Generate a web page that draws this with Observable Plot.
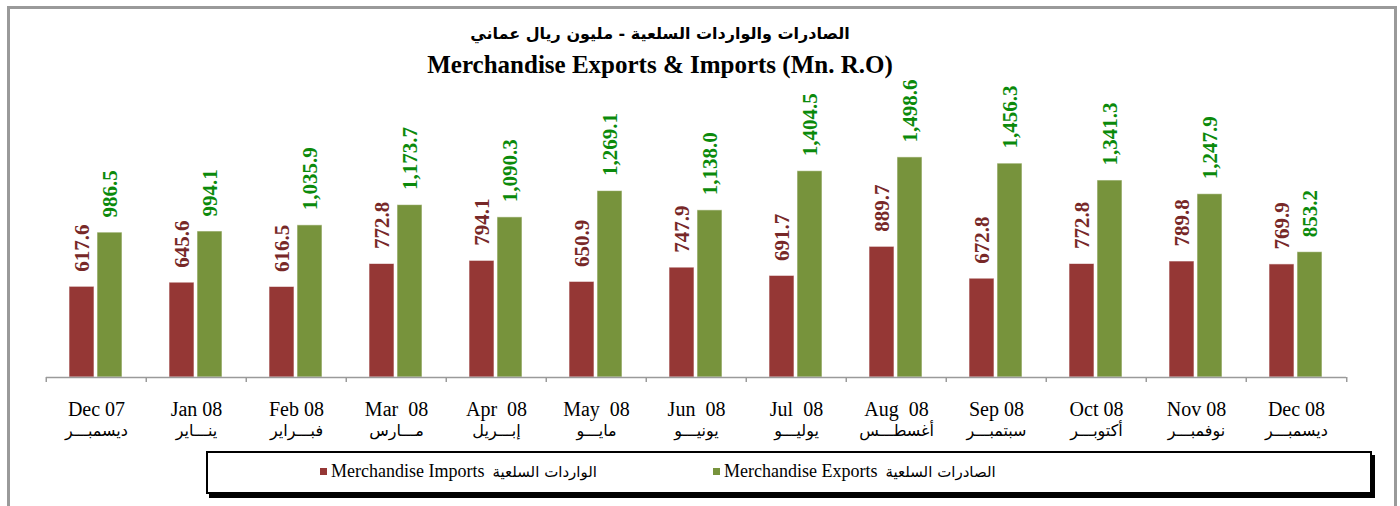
<!DOCTYPE html>
<html><head><meta charset="utf-8">
<script src="https://cdn.jsdelivr.net/npm/d3@7"></script>
<script src="https://cdn.jsdelivr.net/npm/@observablehq/plot@0.6"></script>
<style>
body{margin:0;background:#fff;}
#wrap{position:relative;width:1400px;height:506px;overflow:hidden;font-family:"Liberation Serif","DejaVu Sans",serif;}
#frame{position:absolute;left:7px;top:6px;width:1384px;height:560px;border:3px solid #9a9a9a;}
#chart{position:absolute;left:0;top:0;}
#title{position:absolute;left:0;top:20px;width:1320px;text-align:center;color:#000;}
#t1{font-family:"DejaVu Sans",sans-serif;font-weight:bold;font-size:16px;line-height:28px;}
#t2{font-family:"Liberation Serif",serif;font-weight:bold;font-size:25px;line-height:34px;}
#legend{position:absolute;left:206px;top:451px;width:1162px;height:39px;border:2px solid #000;box-shadow:3px 4px 0 #000;background:#fff;font-size:18px;}
.item{position:absolute;top:8px;white-space:nowrap;display:flex;align-items:center;}
.sw{display:inline-block;width:7px;height:7px;margin-right:4px;}
.ar{font-family:"DejaVu Sans",sans-serif;font-size:15px;margin-left:8px;}
</style></head>
<body><div id="wrap">
<div id="frame"></div>
<div id="chart"></div>
<div id="title"><div id="t1" dir="rtl">الصادرات والواردات السلعية - مليون ريال عماني</div><div id="t2">Merchandise Exports &amp; Imports (Mn. R.O)</div></div>
<div id="legend"></div>
</div>
<script>
const months = ["Dec 07","Jan 08","Feb 08","Mar  08","Apr  08","May  08","Jun  08","Jul  08","Aug  08","Sep 08","Oct 08","Nov 08","Dec 08"];
const monthsAr = ["ديسمبـــر","ينـــاير","فبـــراير","مـــارس","إبـــريل","مايـــو","يونيـــو","يوليـــو","أغسطـــس","سبتمبـــر","أكتوبـــر","نوفمبـــر","ديسمبـــر"];
const imports = [617.6,645.6,616.5,772.8,794.1,650.9,747.9,691.7,889.7,672.8,772.8,789.8,769.9];
const exportsV = [986.5,994.1,1035.9,1173.7,1090.3,1269.1,1138.0,1404.5,1498.6,1456.3,1341.3,1247.9,853.2];
const series = ["Merchandise Imports","Merchandise Exports"];
const seriesAr = ["الواردات السلعية","الصادرات السلعية"];
const barColors = ["#953735","#77933C"];
const labelColors = ["#772828","#0b8a0b"];

const data = months.flatMap((m,i)=>[
  {month:m, series:series[0], value:imports[i]},
  {month:m, series:series[1], value:exportsV[i]}
]);
const fmt = d3.format(",.1f");
const arOf = new Map(months.map((m,i)=>[m, monthsAr[i]]));
const W = 1400, ML = 43, MR = 51;
const step = (W-ML-MR)/months.length;

const chart = Plot.plot({
  width:W, height:450, marginLeft:ML, marginRight:MR, marginTop:142, marginBottom:73,
  style:{background:"transparent", fontFamily:'"Liberation Serif","DejaVu Sans",serif', color:"#000"},
  fx:{domain:months, padding:0, label:null, axis:null},
  x:{domain:series, paddingInner:0.103, paddingOuter:0.784, axis:null},
  y:{domain:[0,1600], axis:null},
  color:{domain:series, range:barColors},
  marks:[
    Plot.barY(data,{fx:"month", x:"series", y:"value", fill:"series", stroke:"#fff", strokeOpacity:0.6}),
    ...series.map((s,k)=>Plot.text(data.filter(d=>d.series===s),{fx:"month", x:"series", y:"value", text:d=>fmt(d.value), rotate:-90, textAnchor:"start", dy:-15, fill:labelColors[k], fontWeight:"bold", fontSize:21})),
    Plot.ruleY([0],{stroke:"#9a9a9a", strokeWidth:1.5}),
    Plot.axisFx({anchor:"bottom", label:null, tickSize:0, tickPadding:24, fontSize:20, tickFormat:m=>m, fill:"#000"}),
    Plot.axisFx({anchor:"bottom", label:null, tickSize:0, tickPadding:47, fontSize:16, fontFamily:"DejaVu Sans", tickFormat:m=>arOf.get(m), fill:"#000"}),
    Plot.axisFx({anchor:"bottom", label:null, tickSize:5, tickFormat:()=>"", dx:-step/2, stroke:"#9a9a9a", strokeWidth:1.5}),
    Plot.axisFx({anchor:"bottom", label:null, ticks:[months[months.length-1]], tickSize:5, tickFormat:()=>"", dx:step/2, stroke:"#9a9a9a", strokeWidth:1.5})
  ]
});
document.getElementById("chart").appendChild(chart);

const legend = document.getElementById("legend");
const lefts = [112, 505];
series.forEach((s,k)=>{
  const it = document.createElement("div");
  it.className = "item";
  it.style.left = lefts[k] + "px";
  it.innerHTML = `<span class="sw" style="background:${barColors[k]}"></span><span>${s}</span><span class="ar">${seriesAr[k]}</span>`;
  legend.appendChild(it);
});
</script>
</body></html>
